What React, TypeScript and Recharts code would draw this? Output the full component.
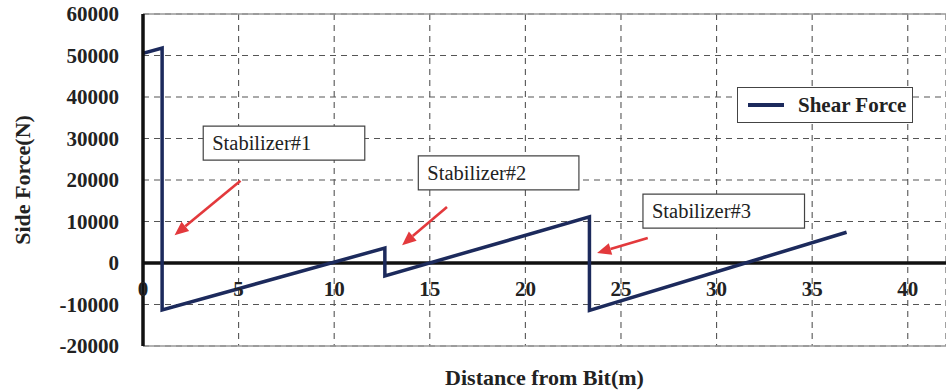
import {
  CartesianGrid,
  Label,
  Legend,
  Line,
  LineChart,
  ReferenceArea,
  ReferenceLine,
  XAxis,
  YAxis,
} from 'recharts';

const SERIF = "'Liberation Serif', 'Times New Roman', serif";
const NAVY = '#1c2a5c';
const RED = '#e3393c';

// distance from bit (m) and shear force (N)
const DIST = [0, 1.0, 1.0, 12.65, 12.65, 23.35, 23.35, 36.8];
const SHEAR = [50500, 51800, -11300, 3600, -3100, 11100, -11400, 7400];

const X_TICKS = [0, 5, 10, 15, 20, 25, 30, 35, 40];
const Y_TICKS = [-20000, -10000, 0, 10000, 20000, 30000, 40000, 50000, 60000];

// callout boxes, data coordinates
const NOTE_TEXT = ['Stabilizer#1', 'Stabilizer#2', 'Stabilizer#3'];
const NOTE_X = [[3.15, 11.6], [14.4, 22.8], [26.15, 34.6]];
const NOTE_Y = [[24800, 33000], [17600, 25800], [8400, 16600]];

// red arrows: [x, y] start -> end
const ARROW_FROM = [[5.1, 19800], [15.9, 13500], [26.4, 6000]];
const ARROW_TO = [[1.65, 6700], [13.55, 4300], [23.75, 2400]];

const rows = DIST.map((d, i) => ({ dist: d, shear: SHEAR[i] }));

function Arrow(p: any) {
  const { x1, y1, x2, y2 } = p;
  const a = Math.atan2(y2 - y1, x2 - x1);
  const len = 14;
  const half = 6;
  const bx = x2 - len * Math.cos(a);
  const by = y2 - len * Math.sin(a);
  const pts = [
    `${x2},${y2}`,
    `${bx - half * Math.sin(a)},${by + half * Math.cos(a)}`,
    `${bx + half * Math.sin(a)},${by - half * Math.cos(a)}`,
  ].join(' ');
  return (
    <g>
      <line x1={x1} y1={y1} x2={bx} y2={by} stroke={RED} strokeWidth={2.6} />
      <polygon points={pts} fill={RED} />
    </g>
  );
}

function NoteText({ viewBox, text }: any) {
  return (
    <text
      x={viewBox.x + 9}
      y={viewBox.y + viewBox.height / 2}
      dominantBaseline="central"
      fontFamily={SERIF}
      fontSize={20.5}
      fill="#222"
    >
      {text}
    </text>
  );
}

function XTick({ x, y, payload }: any) {
  return (
    <text
      x={x}
      y={y}
      dy={-58}
      textAnchor="middle"
      fontFamily={SERIF}
      fontSize={21}
      fontWeight={700}
      fill="#222"
    >
      {payload.value}
    </text>
  );
}

function LegendBox() {
  return (
    <div
      style={{
        display: 'flex',
        alignItems: 'center',
        width: 176,
        height: 36,
        border: '1.2px solid #444',
        background: '#fff',
        boxSizing: 'border-box',
        fontFamily: SERIF,
        fontWeight: 700,
        fontSize: 21,
        color: '#222',
      }}
    >
      <span style={{ display: 'inline-block', width: 36, height: 4, background: NAVY, margin: '0 14px 0 10px' }} />
      Shear Force
    </div>
  );
}

export default function App() {
  return (
    <div style={{ position: 'absolute', left: 0, top: 0, background: '#fff' }}>
      <LineChart width={946} height={392} data={rows} margin={{ top: 14, right: 0, bottom: 0, left: 0 }}>
        <CartesianGrid stroke="#555" strokeWidth={1.1} strokeDasharray="6 5" />
        <XAxis
          dataKey="dist"
          type="number"
          domain={[0, 42]}
          ticks={X_TICKS}
          allowDataOverflow
          height={46}
          axisLine={{ stroke: '#999', strokeWidth: 1.5 }}
          tickLine={false}
          tick={<XTick />}
        >
          <Label
            content={({ viewBox }: any) => (
              <text
                x={viewBox.x + viewBox.width / 2}
                y={viewBox.y + 31}
                textAnchor="middle"
                dominantBaseline="central"
                fontFamily={SERIF}
                fontSize={22}
                fontWeight={700}
                fill="#222"
              >
                Distance from Bit(m)
              </text>
            )}
          />
        </XAxis>
        <YAxis
          type="number"
          domain={[-20000, 60000]}
          ticks={Y_TICKS}
          width={143}
          axisLine={{ stroke: '#111', strokeWidth: 3.5 }}
          tickLine={false}
          tickMargin={18}
          tick={{ fill: '#222', fontSize: 21, fontWeight: 700, fontFamily: SERIF }}
        >
          <Label
            content={({ viewBox }: any) => {
              const cx = viewBox.x + 22;
              const cy = viewBox.y + viewBox.height / 2;
              return (
                <text
                  x={cx}
                  y={cy}
                  transform={`rotate(-90 ${cx} ${cy})`}
                  textAnchor="middle"
                  dominantBaseline="central"
                  fontFamily={SERIF}
                  fontSize={22}
                  fontWeight={700}
                  fill="#222"
                >
                  Side Force(N)
                </text>
              );
            }}
          />
        </YAxis>
        <ReferenceLine y={60000} stroke="#999" strokeWidth={1.5} />
        <ReferenceLine y={0} stroke="#111" strokeWidth={3.5} />
        {NOTE_TEXT.map((t, i) => (
          <ReferenceArea
            key={t}
            x1={NOTE_X[i][0]}
            x2={NOTE_X[i][1]}
            y1={NOTE_Y[i][0]}
            y2={NOTE_Y[i][1]}
            fill="#fff"
            fillOpacity={1}
            stroke="#444"
            strokeWidth={1.2}
            label={<NoteText text={t} />}
          />
        ))}
        {ARROW_FROM.map((f, i) => (
          <ReferenceLine
            key={i}
            segment={[
              { x: f[0], y: f[1] },
              { x: ARROW_TO[i][0], y: ARROW_TO[i][1] },
            ]}
            shape={Arrow}
          />
        ))}
        <Line
          type="linear"
          dataKey="shear"
          name="Shear Force"
          stroke={NAVY}
          strokeWidth={3.5}
          dot={false}
          isAnimationActive={false}
        />
        <Legend
          layout="horizontal"
          verticalAlign="middle"
          align="center"
          content={() => <LegendBox />}
          wrapperStyle={{ left: 737, top: 87, width: 178 }}
        />
      </LineChart>
    </div>
  );
}
